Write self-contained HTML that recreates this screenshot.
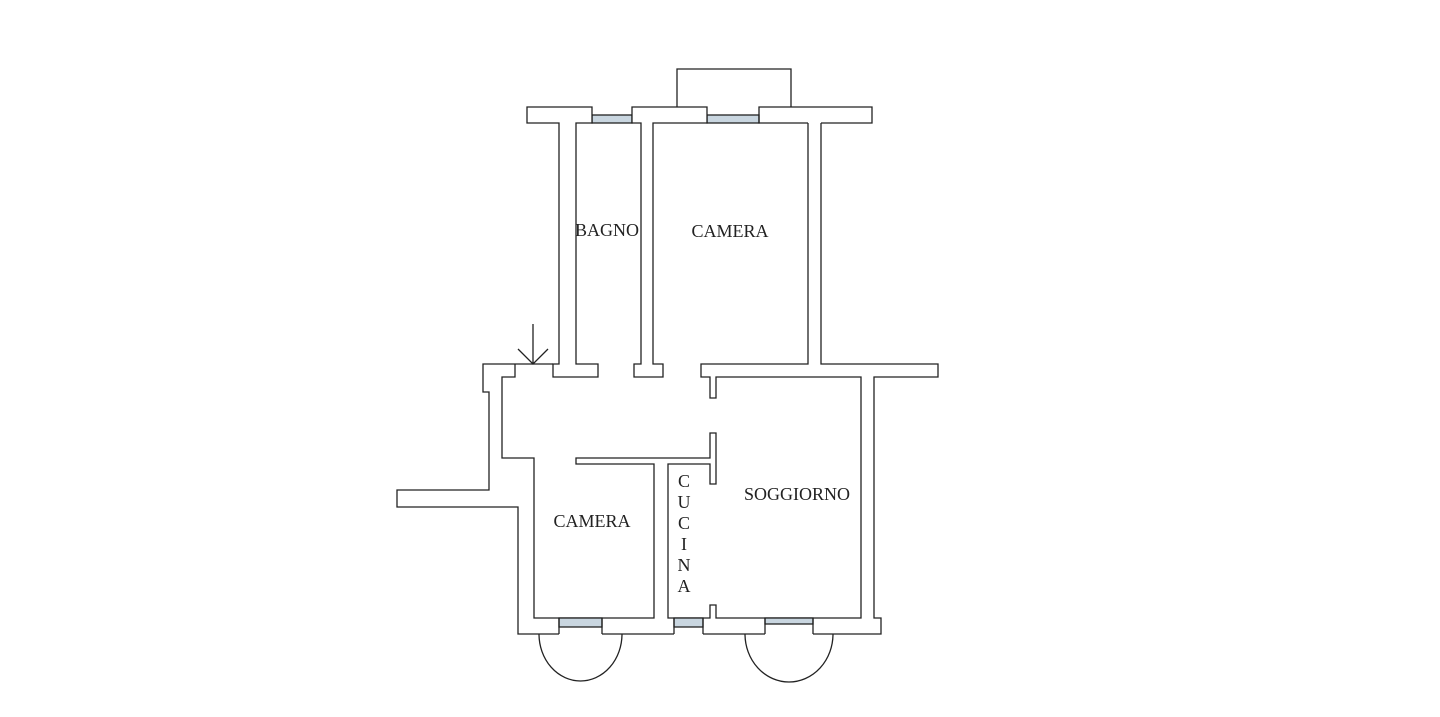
<!DOCTYPE html>
<html><head><style>html,body{margin:0;padding:0;background:#fff;}svg{display:block}</style></head>
<body>
<svg width="1440" height="717" viewBox="0 0 1440 717" xmlns="http://www.w3.org/2000/svg">
<g fill="none" stroke="#222" stroke-width="1.3">
<!-- balcony -->
<path d="M677,107 V69 H791 V107"/>
<!-- windows top -->
<rect x="592" y="115" width="40" height="8" fill="#c9d6e0"/>
<rect x="707" y="115" width="52" height="8" fill="#c9d6e0"/>
<!-- left top block + bagno left wall -->
<path d="M553,364 H559 V123 H527 V107 H592 V123 H576 V364 H598 V377 H553 Z" fill="#fff"/>
<!-- middle block + bagno/camera wall -->
<path d="M641,364 V123 H632 V107 H707 V123 H653 V364 H663 V377 H634 V364 Z" fill="#fff"/>
<!-- right top block -->
<path d="M808,123 H759 V107 H872 V123 H821"/>
<!-- outer left -->
<path d="M553,364 H483 V392 H489 V490 H397 V507 H518 V634 H559"/>
<path d="M515,364 V377 H502 V458 H534 V618 H654 V464 H576 V458 H710 V433 H716 V484 H710 V464 H668 V618 H710 V605 H716 V618 H861 V377 H716 V398 H710 V377 H701 V364 H808 V123"/>
<path d="M821,123 V364 H938 V377 H874 V618 H881 V634 H813"/>
<path d="M602,634 H674 M703,634 H765"/>
<rect x="559" y="618" width="43" height="9" fill="#c9d6e0"/>
<rect x="674" y="618" width="29" height="9" fill="#c9d6e0"/>
<rect x="765" y="618" width="48" height="6" fill="#c9d6e0"/>
<path d="M559,618 V634 M602,618 V634 M674,618 V634 M703,618 V634 M765,618 V634 M813,618 V634"/>
<!-- door arcs -->
<path d="M539,634 A41.5,47 0 0 0 622,634"/>
<path d="M745,634 A44,48 0 0 0 833,634"/>
<!-- arrow -->
<path d="M533,324 V364 M518,349 L533,364 L548,349"/>
</g>
<g font-family="'Liberation Serif', serif" font-size="18" fill="#222" text-anchor="middle">
<text x="607" y="236">BAGNO</text>
<text x="730" y="237">CAMERA</text>
<text x="592" y="527">CAMERA</text>
<text x="797" y="500">SOGGIORNO</text>
<text x="684" y="487">C</text>
<text x="684" y="508">U</text>
<text x="684" y="529">C</text>
<text x="684" y="550">I</text>
<text x="684" y="571">N</text>
<text x="684" y="592">A</text>
</g>
</svg>
</body></html>
